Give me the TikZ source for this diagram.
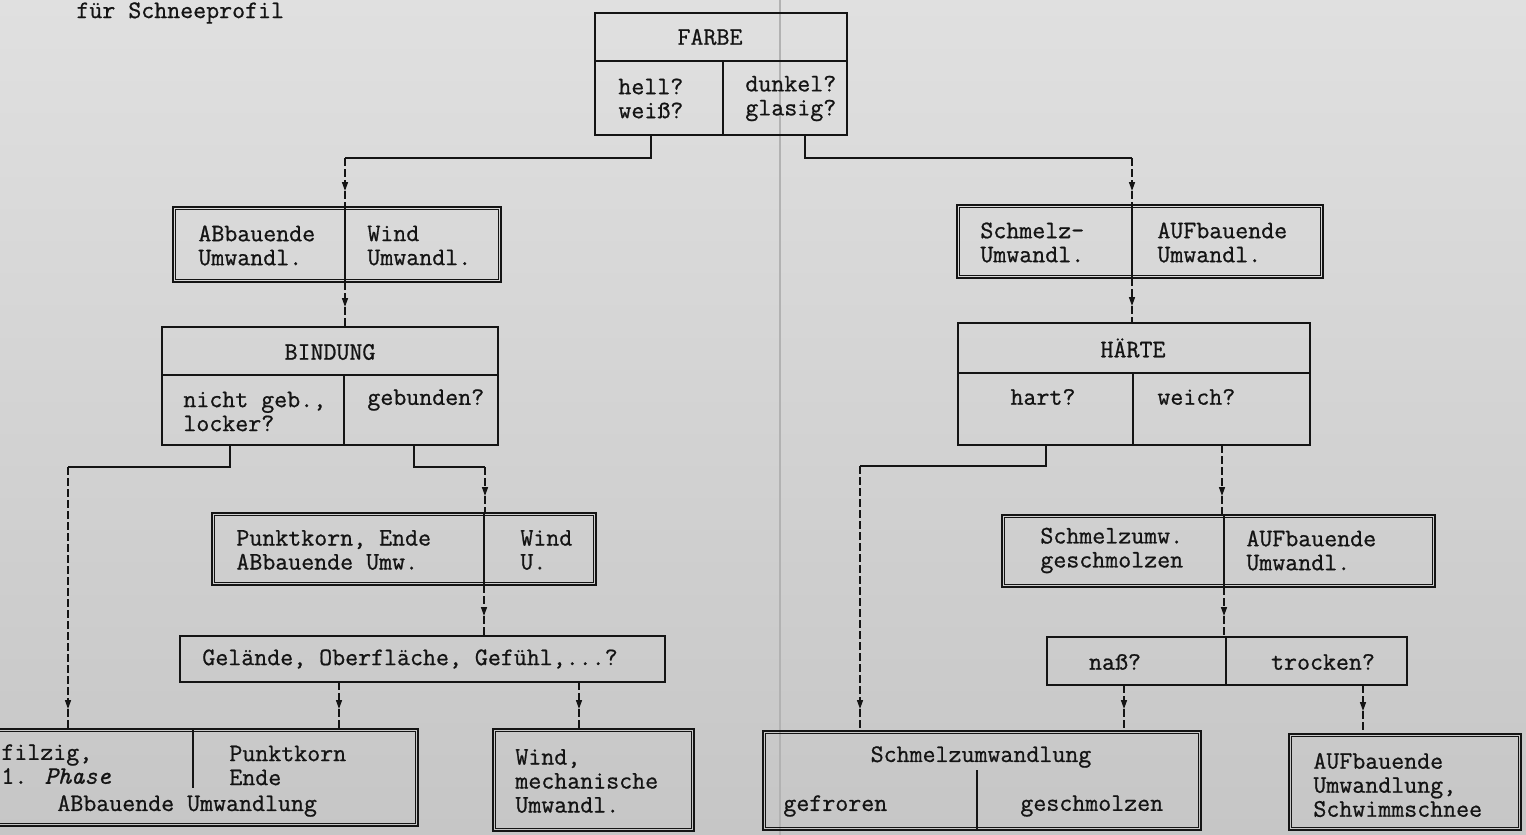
\documentclass[tikz,border=0pt]{standalone}
\usepackage{fontspec}
\newfontfamily\twfont{Latin Modern Mono}[FakeBold=0.8]
\usetikzlibrary{arrows.meta,fit}
\definecolor{bgtop}{RGB}{224,224,224}
\definecolor{bgbot}{RGB}{198,198,198}
\definecolor{ink}{RGB}{20,20,20}
\newcommand\dblin[1]{\draw[inbox] ([shift={(3.5,3.5)}]#1.north west) rectangle ([shift={(-3.5,-3.5)}]#1.south east);}
\tikzset{
 txt/.style={inner sep=0pt, font=\twfont\fontsize{12.6}{12}\selectfont, align=left, text=ink},
 box/.style={draw=ink, line width=0.75pt, inner sep=0pt},
 inbox/.style={draw=ink, line width=0.5pt},
 div/.style={draw=ink, line width=0.75pt},
 conn/.style={draw=ink, line width=0.75pt},
 dconn/.style={draw=ink, line width=0.75pt, dash pattern=on 4pt off 1.5pt},
 tip/.style={-{Triangle[width=3pt,length=4.5pt]}},
}
\begin{document}
\begin{tikzpicture}[x=0.5pt,y=-0.5pt]
\useasboundingbox (0,0) rectangle (1526,835);
\clip (0,0) rectangle (1526,835);
\shade[top color=bgtop,bottom color=bgbot] (0,0) rectangle (1526,835);
\draw[gray!60, line width=0.6pt] (780,0) -- (780,835);

% title
\node[txt, anchor=west] (title) at (76,13) {für Schneeprofil};

% FARBE
\node[box, fit={(595,13)(847,135)}] (farbe) {};
\draw[div] (595,61) -- (847,61) (723,61) -- (723,135);
\node[txt] (tfarbe) at (710,37) {FARBE};
\node[txt, anchor=west] (thell) at (618,98.5) {hell?\\weiß?};
\node[txt, anchor=west] (tdunkel) at (745,98.5) {dunkel?\\glasig?};

% left branch
\node[box, fit={(173,207)(501,282)}] (b1) {}; \dblin{b1}
\draw[div] (345,207) -- (345,282);
\node[txt, anchor=west] (tb1a) at (198,245.5) {ABbauende\\Umwandl.};
\node[txt, anchor=west] (tb1b) at (367,245.5) {Wind\\Umwandl.};

\node[box, fit={(162,327)(498,445)}] (bind) {};
\draw[div] (162,375) -- (498,375) (344,375) -- (344,445);
\node[txt] (tbind) at (330,352) {BINDUNG};
\node[txt, anchor=west] (tnicht) at (183,411.5) {nicht geb.,\\locker?};
\node[txt, anchor=west] (tgeb) at (367,400) {gebunden?};

\node[box, fit={(212,513)(596,585)}] (punkt) {}; \dblin{punkt}
\draw[div] (484,513) -- (484,585);
\node[txt, anchor=west] (tpunkt) at (236,550) {Punktkorn, Ende\\ABbauende Umw.};
\node[txt, anchor=west] (twindu) at (520,550) {Wind\\U.};

\node[box, fit={(180,636)(665,682)}] (gel) {};
\node[txt, anchor=west] (tgel) at (202,659) {Gelände, Oberfläche, Gefühl,...?};

\node[box, fit={(-20,729)(418,826)}] (bl) {}; \dblin{bl}
\draw[div] (193,729) -- (193,788);
\node[txt, anchor=west] (tfilz) at (1,755) {filzig,};
\node[txt, anchor=west] (tphase) at (1,776) {1. \textit{Phase}};
\node[txt, anchor=west] (tpke) at (229,765.5) {Punktkorn\\Ende};
\node[txt, anchor=west] (tabu) at (57,806) {ABbauende Umwandlung};

\node[box, fit={(493,729)(694,831)}] (wind) {}; \dblin{wind}
\node[txt, anchor=west] (twind) at (515,781) {Wind,\\mechanische\\Umwandl.};

% right branch
\node[box, fit={(957,205)(1323,278)}] (r1) {}; \dblin{r1}
\draw[div] (1132,205) -- (1132,278);
\node[txt, anchor=west] (tr1a) at (980,242.5) {Schmelz-\\Umwandl.};
\node[txt, anchor=west] (tr1b) at (1157,242.5) {AUFbauende\\Umwandl.};

\node[box, fit={(958,323)(1310,445)}] (haerte) {};
\draw[div] (958,373) -- (1310,373) (1133,373) -- (1133,445);
\node[txt] (thaerte) at (1133,348) {HÄRTE};
\node[txt] (thart) at (1043,397) {hart?};
\node[txt, anchor=west] (tweich) at (1157,397) {weich?};

\node[box, fit={(1002,515)(1435,587)}] (r2) {}; \dblin{r2}
\draw[div] (1224,515) -- (1224,587);
\node[txt, anchor=west] (tr2a) at (1040,550.5) {Schmelzumw.\\geschmolzen};
\node[txt, anchor=west] (tr2b) at (1246,550.5) {AUFbauende\\Umwandl.};

\node[box, fit={(1047,637)(1407,685)}] (nass) {};
\draw[div] (1226,637) -- (1226,685);
\node[txt] (tnass) at (1115,662) {naß?};
\node[txt] (ttrocken) at (1323,662) {trocken?};

\node[box, fit={(763,731)(1201,830)}] (sz) {}; \dblin{sz}
\draw[div] (977,770) -- (977,830);
\node[txt] (tsz) at (981,757) {Schmelzumwandlung};
\node[txt, anchor=west] (tgefr) at (783,806) {gefroren};
\node[txt, anchor=west] (tgesch) at (1020,806) {geschmolzen};

\node[box, fit={(1289,734)(1521,830)}] (auf) {}; \dblin{auf}
\node[txt, anchor=west] (tauf) at (1313,785) {AUFbauende\\Umwandlung,\\Schwimmschnee};

% connectors
\coordinate (fl0) at (651,135); \coordinate (fl1) at (345,158); \coordinate (al1) at (345,191);
\draw[conn] (fl0) |- (fl1); \draw[dconn,tip] (fl1) -- (al1); \draw[dconn] (al1) -- (al1 |- b1.north);

\coordinate (fr0) at (805,135); \coordinate (fr1) at (1132,158); \coordinate (ar1) at (1132,191);
\draw[conn] (fr0) |- (fr1); \draw[dconn,tip] (fr1) -- (ar1); \draw[dconn] (ar1) -- (ar1 |- r1.north);

\coordinate (b1b) at (345,282); \coordinate (ab1) at (345,307);
\draw[dconn,tip] (b1b) -- (ab1); \draw[dconn] (ab1) -- (ab1 |- bind.north);

\coordinate (bl0) at (230,445); \coordinate (bl1) at (68,467); \coordinate (abl) at (68,709);
\draw[conn] (bl0) |- (bl1); \draw[dconn,tip] (bl1) -- (abl); \draw[dconn] (abl) -- (abl |- bl.north);

\coordinate (br0) at (414,445); \coordinate (br1) at (485,467); \coordinate (abr) at (485,496);
\draw[conn] (br0) |- (br1); \draw[dconn,tip] (br1) -- (abr); \draw[dconn] (abr) -- (abr |- punkt.north);

\coordinate (pb) at (484,585); \coordinate (ap) at (484,616);
\draw[dconn,tip] (pb) -- (ap); \draw[dconn] (ap) -- (ap |- gel.north);

\coordinate (g1) at (339,682); \coordinate (ag1) at (339,709);
\draw[dconn,tip] (g1) -- (ag1); \draw[dconn] (ag1) -- (ag1 |- bl.north);
\coordinate (g2) at (579,682); \coordinate (ag2) at (579,709);
\draw[dconn,tip] (g2) -- (ag2); \draw[dconn] (ag2) -- (ag2 |- wind.north);

\coordinate (r1b) at (1132,278); \coordinate (ar1b) at (1132,306);
\draw[dconn,tip] (r1b) -- (ar1b); \draw[dconn] (ar1b) -- (ar1b |- haerte.north);

\coordinate (hl0) at (1046,445); \coordinate (hl1) at (860,466); \coordinate (ahl) at (860,709);
\draw[conn] (hl0) |- (hl1); \draw[dconn,tip] (hl1) -- (ahl); \draw[dconn] (ahl) -- (ahl |- sz.north);

\coordinate (hr0) at (1222,445); \coordinate (ahr) at (1222,496);
\draw[dconn,tip] (hr0) -- (ahr); \draw[dconn] (ahr) -- (ahr |- r2.north);

\coordinate (r2b) at (1224,587); \coordinate (ar2) at (1224,616);
\draw[dconn,tip] (r2b) -- (ar2); \draw[dconn] (ar2) -- (ar2 |- nass.north);

\coordinate (n1) at (1124,685); \coordinate (an1) at (1124,709);
\draw[dconn,tip] (n1) -- (an1); \draw[dconn] (an1) -- (an1 |- sz.north);
\coordinate (n2) at (1363,685); \coordinate (an2) at (1363,711);
\draw[dconn,tip] (n2) -- (an2); \draw[dconn] (an2) -- (an2 |- auf.north);
\end{tikzpicture}
\end{document}
